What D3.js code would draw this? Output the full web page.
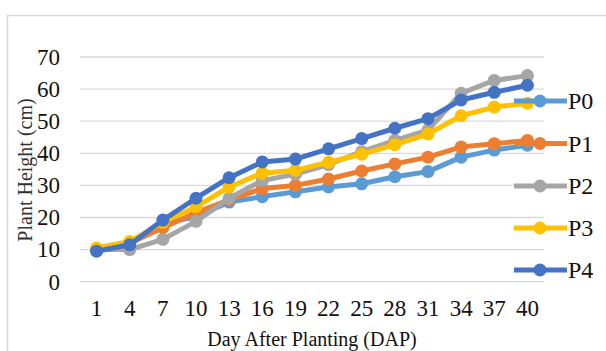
<!DOCTYPE html>
<html><head><meta charset="utf-8">
<script src="https://cdn.jsdelivr.net/npm/d3@7/dist/d3.min.js"></script>
<style>html,body{margin:0;padding:0;background:#fff;}svg{display:block;}
svg text{font-family:"Liberation Serif","Times New Roman",serif;}</style>
</head><body>
<script>
const days = [1,4,7,10,13,16,19,22,25,28,31,34,37,40];
const seriesNames = ["P0","P1","P2","P3","P4"];
const colors = ["#5B9BD5","#ED7D31","#A5A5A5","#FFC000","#4472C4"];
const P0 = [10, 12, 18, 20.3, 24.8, 26.5, 28, 29.5, 30.5, 32.7, 34.3, 38.8, 41, 42.5];
const P1 = [10, 12, 16.8, 21.5, 25.5, 29, 30, 32, 34.5, 36.7, 38.8, 42, 43, 44];
const P2 = [10, 10, 13.2, 18.8, 26, 31.5, 33.5, 36.5, 40.5, 44, 47.2, 58.7, 62.7, 64.2];
const P3 = [10.5, 12.5, 18.5, 23.3, 29.5, 33.8, 34.7, 37.2, 39.7, 42.7, 46, 51.7, 54.4, 55.6];
const P4 = [9.5, 11.5, 19.2, 26, 32.4, 37.3, 38.2, 41.4, 44.6, 47.8, 50.8, 56.6, 59, 61.2];
const yTicks = [0,10,20,30,40,50,60,70];
const allSeries = [P0,P1,P2,P3,P4];

const W = 606, H = 351;
const svg = d3.select("body").append("svg").attr("width", W).attr("height", H);
svg.append("rect").attr("x", 7.5).attr("y", 15.5).attr("width", W + 10).attr("height", H + 10)
  .attr("fill", "#fff").attr("stroke", "#D9D9D9").attr("stroke-width", 1.5);

const x = d3.scaleBand().domain(days).range([80, 544]);
const y = d3.scaleLinear().domain([0, 70]).range([281.7, 57]);
const font = '"Liberation Serif", "Times New Roman", serif';

// gridlines
svg.append("g").selectAll("line").data(yTicks).join("line")
  .attr("x1", 80).attr("x2", 544)
  .attr("y1", d => y(d)).attr("y2", d => y(d))
  .attr("stroke", "#D9D9D9").attr("stroke-width", 1.3);

// y axis
const yAxis = svg.append("g").attr("transform", "translate(80,0)")
  .call(d3.axisLeft(y).tickValues(yTicks).tickSize(0).tickPadding(20));
yAxis.attr("font-family", null).attr("font-size", null);
yAxis.select(".domain").remove();
yAxis.selectAll("text").style("font-family", font).style("font-size", "23px").attr("fill", "#111");

// x axis
const xAxis = svg.append("g").attr("transform", "translate(0,282)")
  .call(d3.axisBottom(x).tickSize(0).tickPadding(18));
xAxis.attr("font-family", null).attr("font-size", null);
xAxis.select(".domain").remove();
xAxis.selectAll("text").style("font-family", font).style("font-size", "23px").attr("fill", "#111");

// titles
svg.append("text").attr("x", 312).attr("y", 346).attr("text-anchor", "middle")
  .style("font-family", font).style("font-size", "20px").attr("fill", "#111")
  .text("Day After Planting (DAP)");
svg.append("text").attr("transform", "translate(32,170) rotate(-90)").attr("text-anchor", "middle")
  .style("font-family", font).style("font-size", "20px").attr("fill", "#333")
  .text("Plant Height (cm)");

// lines
const line = d3.line().x((d, i) => x(days[i]) + x.bandwidth() / 2).y(d => y(d));
allSeries.forEach((s, k) => {
  const g = svg.append("g");
  g.append("path").attr("d", line(s)).attr("fill", "none")
    .attr("stroke", colors[k]).attr("stroke-width", 5).attr("stroke-linejoin", "round");
  g.selectAll("circle").data(s).join("circle")
    .attr("cx", (d, i) => x(days[i]) + x.bandwidth() / 2).attr("cy", d => y(d))
    .attr("r", 6.5).attr("fill", colors[k]);
});

// legend
const legY = [101, 143.5, 186, 228, 270];
seriesNames.forEach((n, k) => {
  const g = svg.append("g");
  g.append("line").attr("x1", 514).attr("x2", 567).attr("y1", legY[k]).attr("y2", legY[k])
    .attr("stroke", colors[k]).attr("stroke-width", 5);
  g.append("circle").attr("cx", 540).attr("cy", legY[k]).attr("r", 6.5).attr("fill", colors[k]);
  g.append("text").attr("x", 568).attr("y", legY[k]).attr("dy", "0.35em")
    .style("font-family", font).style("font-size", "24px").attr("fill", "#111").text(n);
});
</script>
</body></html>
